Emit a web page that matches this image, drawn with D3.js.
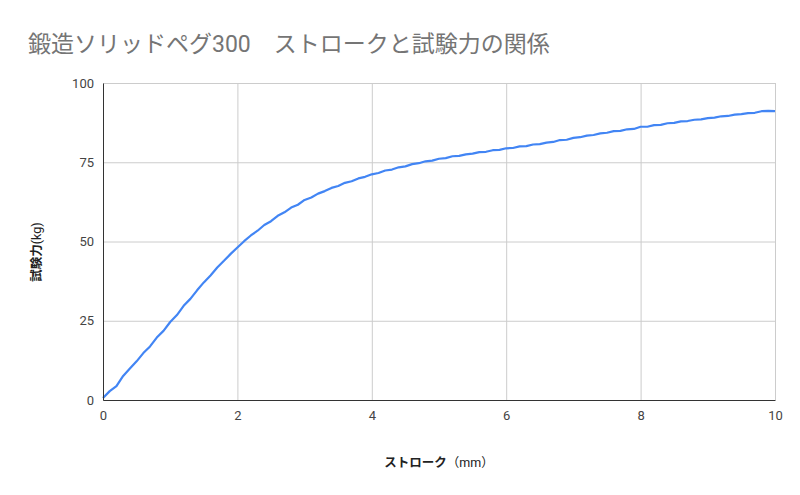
<!DOCTYPE html>
<html>
<head>
<meta charset="utf-8">
<script src="https://cdn.jsdelivr.net/npm/d3@7"></script>
<style>
  body { margin: 0; background: #fff; }
  svg text { font-family: Roboto, "Noto Sans CJK JP", sans-serif; }
</style>
</head>
<body>
<svg id="chart" width="800" height="495"></svg>
<script>
var title = '鍛造ソリッドペグ300　ストロークと試験力の関係';
var xTitle = ['ストローク', '（mm）'];
var yTitle = ['試験力', '(kg)'];

var xTicks = [0, 2, 4, 6, 8, 10];
var yTicks = [0, 25, 50, 75, 100];

// stroke (mm)
var stroke = [
  0.0, 0.1, 0.2, 0.3, 0.4, 0.5, 0.6, 0.7, 0.8, 0.9,
  1.0, 1.1, 1.2, 1.3, 1.4, 1.5, 1.6, 1.7, 1.8, 1.9,
  2.0, 2.1, 2.2, 2.3, 2.4, 2.5, 2.6, 2.7, 2.8, 2.9,
  3.0, 3.1, 3.2, 3.3, 3.4, 3.5, 3.6, 3.7, 3.8, 3.9,
  4.0, 4.1, 4.2, 4.3, 4.4, 4.5, 4.6, 4.7, 4.8, 4.9,
  5.0, 5.1, 5.2, 5.3, 5.4, 5.5, 5.6, 5.7, 5.8, 5.9,
  6.0, 6.1, 6.2, 6.3, 6.4, 6.5, 6.6, 6.7, 6.8, 6.9,
  7.0, 7.1, 7.2, 7.3, 7.4, 7.5, 7.6, 7.7, 7.8, 7.9,
  8.0, 8.1, 8.2, 8.3, 8.4, 8.5, 8.6, 8.7, 8.8, 8.9,
  9.0, 9.1, 9.2, 9.3, 9.4, 9.5, 9.6, 9.7, 9.8, 9.9,
  10.0
];

// test force (kg)
var force = [
  0.6, 2.8, 4.4, 7.6, 9.9, 12.2, 14.8, 16.9, 19.7, 21.8,
  24.6, 26.8, 29.7, 31.9, 34.6, 37.1, 39.3, 41.8, 43.9, 46.1,
  48.1, 50.1, 51.9, 53.4, 55.2, 56.4, 58.1, 59.2, 60.7, 61.6,
  63.1, 63.9, 65.1, 65.9, 66.9, 67.5, 68.5, 69.0, 69.9, 70.4,
  71.2, 71.6, 72.4, 72.7, 73.4, 73.7, 74.4, 74.7, 75.3, 75.5,
  76.1, 76.3, 76.9, 77.0, 77.5, 77.7, 78.2, 78.3, 78.8, 78.9,
  79.4, 79.5, 80.0, 80.1, 80.6, 80.7, 81.2, 81.4, 82.0, 82.1,
  82.7, 82.9, 83.4, 83.6, 84.1, 84.3, 84.8, 84.9, 85.4, 85.5,
  86.2, 86.2, 86.7, 86.8, 87.3, 87.4, 87.9, 88.0, 88.4, 88.5,
  88.9, 89.1, 89.5, 89.6, 90.0, 90.2, 90.5, 90.6, 91.1, 91.2,
  91.1
];

var margin = {left: 103, right: 25, top: 83, bottom: 95};
var svg = d3.select('#chart');
var width = +svg.attr('width') - margin.left - margin.right;
var height = +svg.attr('height') - margin.top - margin.bottom;

var x = d3.scaleLinear().domain([0, 10]).range([0, width]);
var y = d3.scaleLinear().domain([0, 100]).range([height, 0]);

//title
svg.append('text')
  .attr('x', 28)
  .attr('y', 52)
  .style('font-size', '23px')
  .style('fill', '#757575')
  .text(title);

var g = svg.append('g')
  .attr('transform', 'translate(' + margin.left + ',' + margin.top + ')');

//gridlines
g.append('g')
  .call(d3.axisLeft(y).tickValues(yTicks).tickSize(-width).tickFormat(''))
  .call(function(s) {
    s.select('.domain').remove();
    s.selectAll('line').attr('stroke', '#cccccc');
  });
g.append('g')
  .attr('transform', 'translate(0,' + height + ')')
  .call(d3.axisBottom(x).tickValues(xTicks).tickSize(-height).tickFormat(''))
  .call(function(s) {
    s.select('.domain').remove();
    s.selectAll('line').attr('stroke', '#cccccc');
  });

//line
var line = d3.line()
  .x(function(d, i) { return x(stroke[i]); })
  .y(function(d) { return y(d); });

g.append('path')
  .datum(force)
  .attr('fill', 'none')
  .attr('stroke', '#4285f4')
  .attr('stroke-width', 2.2)
  .attr('stroke-linejoin', 'round')
  .attr('d', line);

//axes
var yAxis = g.append('g')
  .call(d3.axisLeft(y).tickValues(yTicks).tickSize(0).tickPadding(9));
yAxis.select('.domain').attr('stroke', '#333333');
yAxis.selectAll('text').style('font-size', '13px').style('fill', '#444444');

var xAxis = g.append('g')
  .attr('transform', 'translate(0,' + height + ')')
  .call(d3.axisBottom(x).tickValues(xTicks).tickSize(0).tickPadding(11));
xAxis.select('.domain').attr('stroke', '#333333');
xAxis.selectAll('text').style('font-size', '13px').style('fill', '#444444');

//axis titles
var xt = svg.append('text')
  .attr('x', margin.left + width / 2)
  .attr('y', 467)
  .attr('text-anchor', 'middle')
  .style('font-size', '12.5px')
  .style('fill', '#222222');
xt.append('tspan').style('font-weight', 'bold').text(xTitle[0]);
xt.append('tspan').text(xTitle[1]);

var yt = svg.append('text')
  .attr('transform', 'translate(41,252) rotate(-90)')
  .attr('text-anchor', 'middle')
  .style('font-size', '12.5px')
  .style('fill', '#222222');
yt.append('tspan').style('font-weight', 'bold').text(yTitle[0]);
yt.append('tspan').text(yTitle[1]);
</script>
</body>
</html>
